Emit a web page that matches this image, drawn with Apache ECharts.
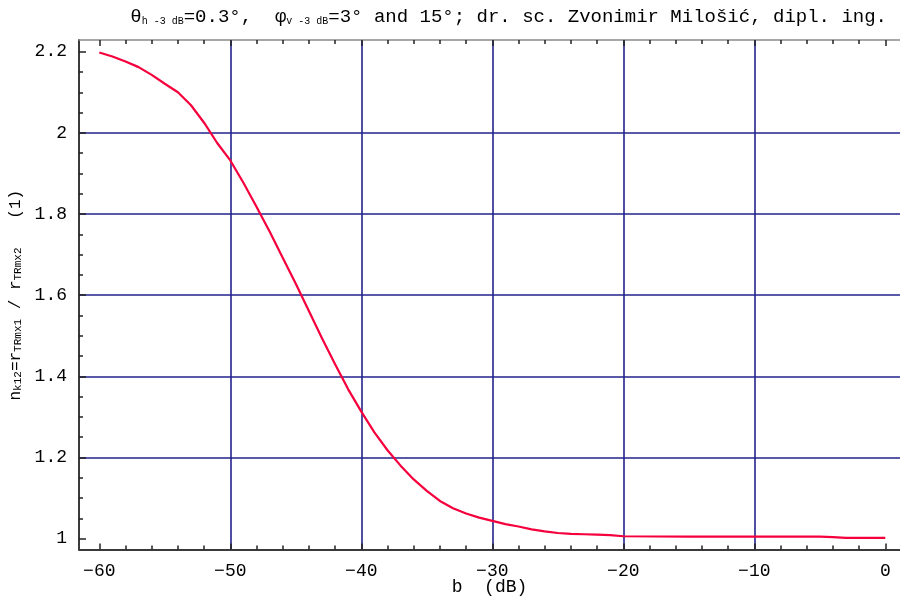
<!DOCTYPE html>
<html>
<head>
<meta charset="utf-8">
<script src="https://cdn.jsdelivr.net/npm/echarts@6/dist/echarts.min.js"></script>
<style>
html,body{margin:0;padding:0;background:#fff;}
#chart{width:900px;height:599px;}
</style>
</head>
<body>
<div id="chart"></div>
<script>
// ---- data ----
const bValues = [-60,-59,-58,-57,-56,-55,-54,-53,-52,-51,-50,-49,-48,-47,-46,-45,-44,-43,-42,-41,-40,-39,-38,-37,-36,-35,-34,-33,-32,-31,-30,-29,-28,-27,-26,-25,-24,-23,-22,-21,-20,-15,-10,-5,-4,-3,0];
const nValues = [2.198,2.188,2.176,2.162,2.143,2.121,2.100,2.068,2.025,1.975,1.932,1.877,1.818,1.757,1.692,1.628,1.561,1.494,1.430,1.368,1.313,1.262,1.218,1.180,1.146,1.118,1.093,1.075,1.062,1.052,1.044,1.036,1.030,1.023,1.018,1.014,1.012,1.011,1.010,1.009,1.006,1.005,1.005,1.005,1.004,1.002,1.002];
const xTickMin = -60, xTickMax = 0, xTickStep = 10;
const yTickMin = 1, yTickMax = 2.2, yTickStep = 0.2;
const titleParts = ['θ', 'h -3 dB', '=0.3°,  φ', 'v -3 dB', '=3° and 15°; dr. sc. Zvonimir Milošić, dipl. ing.'];
const xName = 'b  (dB)';
const yNameParts = ['n', 'k12', '=r', 'TRmx1', ' / r', 'TRmx2', '   (1)'];

const FONT = 'Liberation Mono';
const GRIDC = '#22228c';
const AXC = '#3a3a3a';

const chart = echarts.init(document.getElementById('chart'), null, {renderer: 'canvas'});

const dataPts = bValues.map((b, i) => [b, nValues[i]]);

const option = {
  backgroundColor: '#ffffff',
  animation: false,
  title: {
    text: '{m|' + titleParts[0] + '}{s|' + titleParts[1] + '}{m|' + titleParts[2] + '}{s|' + titleParts[3] + '}{m|' + titleParts[4] + '}',
    right: 8, top: -1,
    textStyle: {
      fontWeight: 'normal',
      rich: {
        m: {fontFamily: FONT, fontSize: 19, fontWeight: 'normal', color: '#000', lineHeight: 22, verticalAlign: 'bottom'},
        s: {fontFamily: FONT, fontSize: 10, fontWeight: 'normal', color: '#000', lineHeight: 14, verticalAlign: 'bottom'}
      }
    }
  },
  grid: [
    {left: 79, right: 0, top: 40, bottom: 49.5, outerBoundsMode: 'none', containLabel: false},
    {left: 99.3, right: 14.7, top: 40, bottom: 49.5, outerBoundsMode: 'none', containLabel: false},
    {left: 79, right: 0, top: 51.7, bottom: 60.3, outerBoundsMode: 'none', containLabel: false},
    {left: 99.3, right: 14.7, top: 51.7, bottom: 60.3, outerBoundsMode: 'none', containLabel: false}
  ],
  xAxis: [
    // frame bottom
    {gridIndex: 0, type: 'value', position: 'bottom', min: 0, max: 1,
     axisLine: {show: true, onZero: false, lineStyle: {color: AXC, width: 2}},
     axisTick: {show: false}, axisLabel: {show: false}, splitLine: {show: false},
     name: xName, nameLocation: 'middle', nameGap: 29,
     nameTextStyle: {fontFamily: FONT, fontSize: 18, color: '#000'}},
    // frame top
    {gridIndex: 0, type: 'value', position: 'top', min: 0, max: 1,
     axisLine: {show: true, onZero: false, lineStyle: {color: '#8a8a8a', width: 1.5}},
     axisTick: {show: false}, axisLabel: {show: false}, splitLine: {show: false}},
    // bottom ticks, labels and vertical grid lines
    {gridIndex: 1, type: 'value', position: 'bottom', min: xTickMin, max: xTickMax, interval: xTickStep,
     axisLine: {show: false, onZero: false},
     axisTick: {show: true, inside: true, length: 6, lineStyle: {color: '#222', width: 1.5}},
     minorTick: {show: true, splitNumber: 5, length: 4, lineStyle: {color: '#222', width: 1.5}},
     axisLabel: {show: true, margin: 13, fontFamily: FONT, fontSize: 18, color: '#000',
                 formatter: v => String(v).replace('-', '−')},
     splitLine: {show: true, showMinLine: false, showMaxLine: false, lineStyle: {color: GRIDC, width: 1.6}}},
    // top ticks
    {gridIndex: 1, type: 'value', position: 'top', min: xTickMin, max: xTickMax, interval: xTickStep,
     axisLine: {show: false, onZero: false},
     axisTick: {show: true, inside: true, length: 6, lineStyle: {color: '#222', width: 1.5}},
     minorTick: {show: true, splitNumber: 5, length: 4, lineStyle: {color: '#222', width: 1.5}},
     axisLabel: {show: false}, splitLine: {show: false}},
    // hidden x for y-tick grid
    {gridIndex: 2, type: 'value', min: 0, max: 1, show: false},
    // data x
    {gridIndex: 3, type: 'value', min: xTickMin, max: xTickMax, show: false}
  ],
  yAxis: [
    // frame left
    {gridIndex: 0, type: 'value', position: 'left', min: 0, max: 1,
     axisLine: {show: true, onZero: false, lineStyle: {color: AXC, width: 2}},
     axisTick: {show: false}, axisLabel: {show: false}, splitLine: {show: false}},
    // hidden y for x-tick grid
    {gridIndex: 1, type: 'value', min: 0, max: 1, show: false},
    // left ticks, labels and horizontal grid lines
    {gridIndex: 2, type: 'value', position: 'left', min: yTickMin, max: yTickMax, interval: yTickStep,
     axisLine: {show: false, onZero: false},
     axisTick: {show: true, inside: true, length: 7, lineStyle: {color: '#222', width: 1.5}},
     minorTick: {show: true, splitNumber: 4, length: 4, lineStyle: {color: '#222', width: 1.5}},
     axisLabel: {show: true, margin: 12, fontFamily: FONT, fontSize: 18, color: '#000'},
     splitLine: {show: true, showMinLine: false, showMaxLine: false, lineStyle: {color: GRIDC, width: 1.6}},
     name: '{m|' + yNameParts[0] + '}{s|' + yNameParts[1] + '}{m|' + yNameParts[2] + '}{s|' + yNameParts[3] + '}{m|' + yNameParts[4] + '}{s|' + yNameParts[5] + '}{m|' + yNameParts[6] + '}',
     nameLocation: 'middle', nameRotate: 90, nameGap: 51,
     nameTextStyle: {
       rich: {
         m: {fontFamily: FONT, fontSize: 16, color: '#000', lineHeight: 18, verticalAlign: 'bottom'},
         s: {fontFamily: FONT, fontSize: 11, color: '#000', lineHeight: 12, verticalAlign: 'bottom'}
       }
     }},
    // data y
    {gridIndex: 3, type: 'value', min: yTickMin, max: yTickMax, show: false}
  ],
  series: [{
    type: 'line',
    xAxisIndex: 5, yAxisIndex: 3,
    data: dataPts,
    showSymbol: false,
    smooth: false,
    clip: false,
    lineStyle: {color: '#f5003d', width: 2.2},
    z: 5
  }]
};
chart.setOption(option);
</script>
</body>
</html>
